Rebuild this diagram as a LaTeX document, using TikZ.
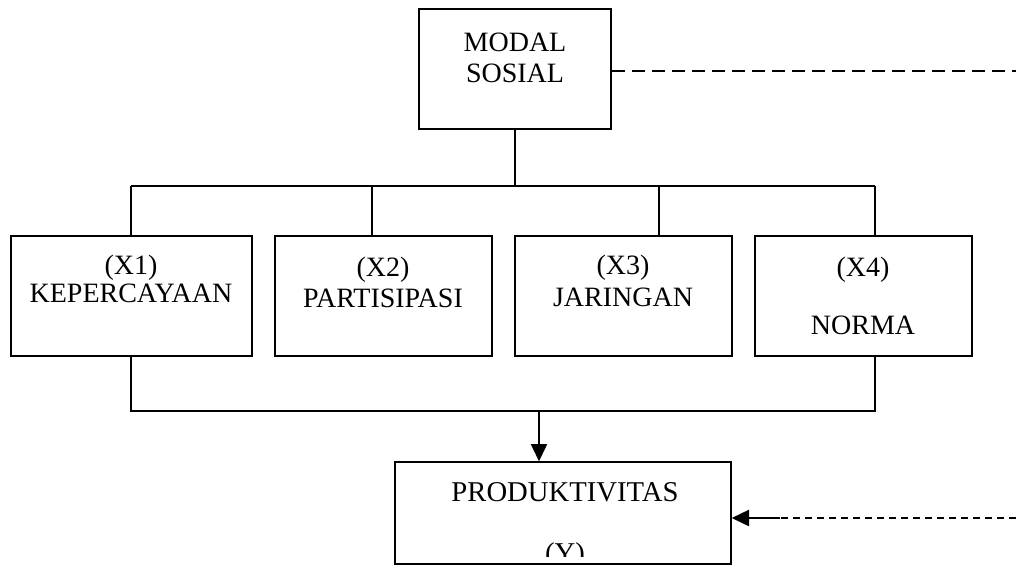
\documentclass[tikz,border=0pt]{standalone}
\usepackage{fontspec}
\setmainfont{Liberation Serif}
\usetikzlibrary{arrows.meta}

\tikzset{
  box/.style={draw,line width=1pt,inner sep=0pt,minimum height=90pt,minimum width=#1},
  txt/.style={font=\fontsize{21}{25}\selectfont,inner sep=0pt,anchor=base},
  line/.style={line width=1pt},
  arr/.style={line width=1.7pt,-{Triangle[length=13pt,width=12pt]}}
}

\begin{document}
\begin{tikzpicture}[x=0.75pt,y=-0.75pt]

\useasboundingbox (0,0) rectangle (1016,565);

% Draw the main box
\node[box=144pt] (ms) at (515,69) {};
\node[txt] (ms1) at (515,51) {MODAL};
\node[txt] (ms2) at (515,82) {SOSIAL};

% Draw the variable boxes
\node[box=180.75pt] (x1) at (131.5,296) {};
\node[box=162.75pt] (x2) at (383.5,296) {};
\node[box=162.75pt] (x3) at (623.5,296) {};
\node[box=162.75pt] (x4) at (863.5,296) {};

\node[txt] (x1a) at (131,274) {(X1)};
\node[txt] (x1b) at (131,302) {KEPERCAYAAN};
\node[txt] (x2a) at (383,276) {(X2)};
\node[txt] (x2b) at (383,307) {PARTISIPASI};
\node[txt] (x3a) at (623,274) {(X3)};
\node[txt] (x3b) at (623,306) {JARINGAN};
\node[txt] (x4a) at (863,276) {(X4)};
\node[txt] (x4b) at (863,334) {NORMA};

% Draw the result box
\node[box=252pt,minimum height=76.5pt] (y) at (563,513) {};
\node[txt,font=\fontsize{21.5}{25}\selectfont] (y1) at (565,501) {PRODUKTIVITAS};
\begin{scope}
  \clip (y.north west) rectangle ([yshift=6.5pt]y.south east);
  \node[txt,font=\fontsize{21.5}{25}\selectfont] (y2) at (565,562) {(Y)};
\end{scope}

% Draw the upper branches
\coordinate (top) at (515,186);
\coordinate (b1) at (131,186);
\coordinate (b2) at (372,186);
\coordinate (b3) at (659,186);
\coordinate (b4) at (875,186);
\draw[line] (ms.south) -- (top);
\draw[line] (b1) -- (b4);
\foreach \i in {1,...,4}
  \draw[line] (b\i) -- (b\i |- x\i.north);

% Draw the lower branches
\coordinate (l1) at (131,411);
\coordinate (l4) at (875,411);
\coordinate (mid) at (539,411);
\draw[line] (l1 |- x1.south) -- (l1) -- (l4) -- (l4 |- x4.south);
\draw[arr] (mid) -- (mid |- y.north);

% Draw the dashed links
\coordinate (d1) at (1016,71);
\draw[line,dash pattern=on 10pt off 5pt] (ms.east |- d1) -- (d1);
\coordinate (d2) at (1016,518);
\coordinate (d3) at (780,518);
\draw[line,dash pattern=on 5pt off 4pt] (d2) -- (d3);
\draw[arr] (d3) -- (d3 -| y.east);

\end{tikzpicture}
\end{document}
